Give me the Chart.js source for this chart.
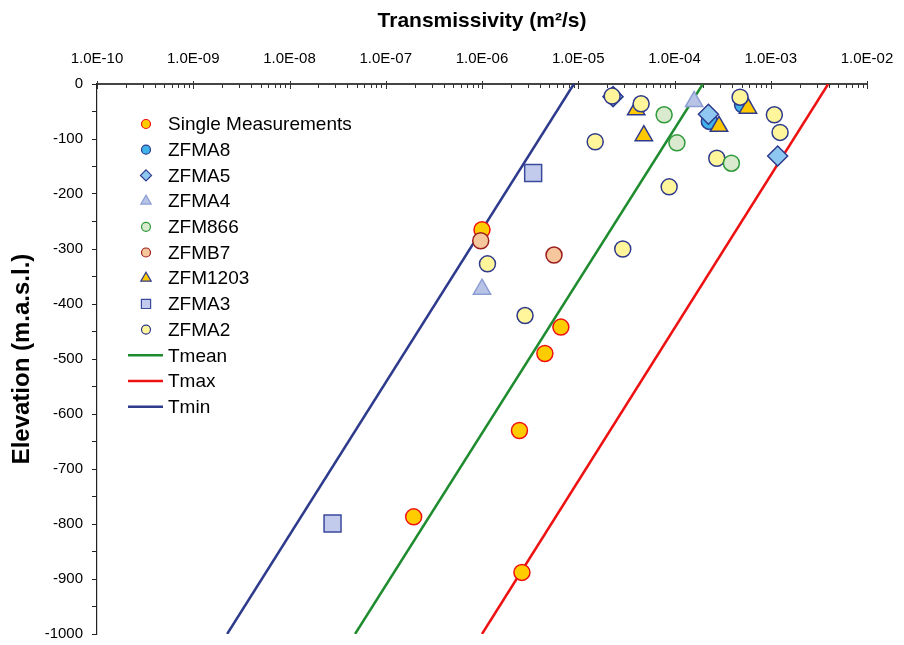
<!DOCTYPE html>
<html>
<head>
<meta charset="utf-8">
<title>Transmissivity vs elevation</title>
<script src="https://cdn.jsdelivr.net/npm/chart.js@4/dist/chart.umd.min.js"></script>
<style>
  html, body { margin: 0; padding: 0; background: #fff; }
  canvas { display: block; }
</style>
</head>
<body>
<canvas id="tChart" width="904" height="645"></canvas>
<script>
// Transmissivity (m2/s) per borehole against elevation (m.a.s.l.)
const singleT = [1.0e-6, 6.6e-6, 4.5e-6, 2.45e-6, 1.95e-7, 2.6e-6];
const singleZ = [-265, -442, -490, -630, -787, -888];

const zfma8T = [2.3e-4, 5.1e-4];
const zfma8Z = [-68, -38];

const zfma5T = [2.3e-5, 2.25e-4, 1.18e-3];
const zfma5Z = [-23, -55, -131];

const zfma4T = [1.6e-4, 1.0e-6];
const zfma4Z = [-32, -373];

const zfm866T = [7.8e-5, 1.06e-4, 3.9e-4];
const zfm866Z = [-56, -107, -144];

const zfmb7T = [9.7e-7, 5.6e-6];
const zfmb7Z = [-285, -311];

const zfm1203T = [4.0e-5, 4.8e-5, 2.9e-4, 5.8e-4];
const zfm1203Z = [-47, -94, -77, -44];

const zfma3T = [3.4e-6, 2.8e-8];
const zfma3Z = [-162, -799];

const zfma2T = [2.25e-5, 4.5e-5, 1.5e-5, 8.8e-5, 2.75e-4, 4.8e-4, 1.09e-3, 1.25e-3, 2.9e-5, 1.14e-6, 2.8e-6];
const zfma2Z = [-22, -36, -105, -187, -135, -24, -56, -88, -300, -327, -421];

// trend lines, end points at 0 and -1000 m
const lineZ = [0, -1000];
const tMeanT = [1.97e-4, 4.8e-8];
const tMaxT = [3.95e-3, 1.0e-6];
const tMinT = [9.0e-6, 2.25e-9];

const decadeExps = [-10, -9, -8, -7, -6, -5, -4, -3, -2];

const FONT = '"Liberation Sans", Arial, sans-serif';
const NAVY = '#2e3a8c';

const pts = (xs, ys) => xs.map((x, i) => ({ x, y: ys[i] }));

function marker(label, xs, ys, style, radius, fill, border, order) {
  return {
    label,
    data: pts(xs, ys),
    pointStyle: style,
    pointRadius: radius,
    pointHoverRadius: radius,
    pointBackgroundColor: fill,
    pointBorderColor: border,
    pointBorderWidth: 1.5,
    backgroundColor: fill,
    borderColor: border,
    showLine: false,
    order,
  };
}

function trend(label, xs, color) {
  return {
    label,
    data: pts(xs, lineZ),
    showLine: true,
    borderColor: color,
    backgroundColor: color,
    borderWidth: 2.5,
    pointRadius: 0,
    pointHoverRadius: 0,
    isLine: true,
    order: 20,
  };
}

const datasets = [
  marker('Single Measurements', singleT, singleZ, 'circle', 8, '#ffcc00', '#ee1111', 9),
  marker('ZFMA8', zfma8T, zfma8Z, 'circle', 8, '#3fb2ea', NAVY, 8),
  marker('ZFMA5', zfma5T, zfma5Z, 'rectRot', 10, '#8ec8f0', NAVY, 7),
  marker('ZFMA4', zfma4T, zfma4Z, 'triangle', 10, '#b8c3e6', '#8c9fd4', 6),
  marker('ZFM866', zfm866T, zfm866Z, 'circle', 8, '#d9eacf', '#2e9a3a', 1),
  marker('ZFMB7', zfmb7T, zfmb7Z, 'circle', 8, '#f6c79c', '#9b1c1c', 5),
  marker('ZFM1203', zfm1203T, zfm1203Z, 'triangle', 10, '#ffc800', NAVY, 3),
  marker('ZFMA3', zfma3T, zfma3Z, 'rect', 12, '#c3cbec', '#3a4a9c', 4),
  marker('ZFMA2', zfma2T, zfma2Z, 'circle', 8, '#fff59a', NAVY, 2),
  trend('Tmean', tMeanT, '#1e8c2e'),
  trend('Tmax', tMaxT, '#ee1111'),
  trend('Tmin', tMinT, NAVY),
];

// smaller marker sizes used in the legend
const legendRadius = { circle: 4.5, rectRot: 5.5, triangle: 6, rect: 6.5 };

// legend drawn inside the plot area
const insideLegend = {
  id: 'insideLegend',
  afterDraw(chart) {
    const ctx = chart.ctx;
    const x0 = 146, y0 = 124, step = 25.7, textX = 168;
    ctx.save();
    ctx.font = '19px ' + FONT;
    ctx.textBaseline = 'middle';
    ctx.textAlign = 'left';
    chart.data.datasets.forEach((ds, i) => {
      const y = y0 + i * step;
      if (ds.isLine) {
        ctx.strokeStyle = ds.borderColor;
        ctx.lineWidth = ds.borderWidth;
        ctx.beginPath();
        ctx.moveTo(128, y);
        ctx.lineTo(163, y);
        ctx.stroke();
      } else {
        ctx.fillStyle = ds.pointBackgroundColor;
        ctx.strokeStyle = ds.pointBorderColor;
        ctx.lineWidth = 1.2;
        Chart.helpers.drawPoint(ctx, {
          pointStyle: ds.pointStyle,
          radius: legendRadius[ds.pointStyle],
          rotation: 0,
          borderWidth: 1.2,
        }, x0, y);
      }
      ctx.fillStyle = '#000';
      ctx.fillText(ds.label, textX, y + 1);
    });
    ctx.restore();
  },
};

// short tick marks on the top axis: minor inward, decades across the line
const topTicks = {
  id: 'topTicks',
  beforeDatasetsDraw(chart) {
    const sx = chart.scales.x;
    const top = chart.chartArea.top;
    const ctx = chart.ctx;
    ctx.save();
    ctx.strokeStyle = '#333';
    ctx.lineWidth = 1;
    sx.ticks.forEach(t => {
      const px = Math.round(sx.getPixelForValue(t.value)) + 0.5;
      const major = t.major;
      ctx.beginPath();
      ctx.moveTo(px, top - (major ? 3 : 0));
      ctx.lineTo(px, top + (major ? 5 : 4));
      ctx.stroke();
    });
    ctx.restore();
  },
};

new Chart(document.getElementById('tChart'), {
  type: 'scatter',
  data: { datasets },
  options: {
    responsive: false,
    animation: false,
    events: [],
    layout: { autoPadding: false, padding: { left: 0, top: 0, right: 37, bottom: 11 } },
    plugins: {
      legend: { display: false },
      tooltip: { enabled: false },
    },
    scales: {
      x: {
        type: 'logarithmic',
        position: 'top',
        min: 1e-10,
        max: 1e-2,
        afterFit: (s) => {
          s.height = 84;
          s.paddingLeft = 0;
          s.paddingRight = 0;
        },
        afterBuildTicks: (s) => {
          const ticks = [];
          decadeExps.forEach((e, i) => {
            const base = Math.pow(10, e);
            const last = i === decadeExps.length - 1;
            for (let m = 1; m <= (last ? 1 : 9); m++) {
              ticks.push({ value: m * base, major: m === 1 });
            }
          });
          s.ticks = ticks;
        },
        grid: { display: true, drawOnChartArea: false, drawTicks: false },
        border: { display: true, color: '#444', width: 2 },
        ticks: {
          autoSkip: false,
          maxRotation: 0,
          padding: 16,
          color: '#000',
          font: { family: FONT, size: 15 },
          callback: (v) => {
            const e = Math.round(Math.log10(v));
            if (Math.abs(v - Math.pow(10, e)) > Math.pow(10, e) * 1e-6) return '';
            return '1.0E' + (e < 0 ? '-' : '+') + String(Math.abs(e)).padStart(2, '0');
          },
        },
        title: {
          display: true,
          text: 'Transmissivity (m²/s)',
          color: '#000',
          padding: { top: 9, bottom: 0 },
          font: { family: FONT, size: 21, weight: 'bold' },
        },
      },
      y: {
        type: 'linear',
        min: -1000,
        max: 0,
        afterFit: (s) => {
          s.width = 97;
          s.paddingTop = 0;
          s.paddingBottom = 0;
        },
        grid: { display: true, drawOnChartArea: false, drawTicks: true, tickLength: 5, color: '#222' },
        border: { display: true, color: '#222', width: 1.2 },
        ticks: {
          stepSize: 50,
          padding: 9,
          color: '#000',
          font: { family: FONT, size: 15 },
          callback: (v) => (v % 100 === 0 ? String(v) : ''),
        },
        title: {
          display: true,
          text: 'Elevation (m.a.s.l.)',
          color: '#000',
          padding: { top: 8, bottom: 0 },
          font: { family: FONT, size: 24, weight: 'bold' },
        },
      },
    },
  },
  plugins: [topTicks, insideLegend],
});
</script>
</body>
</html>
